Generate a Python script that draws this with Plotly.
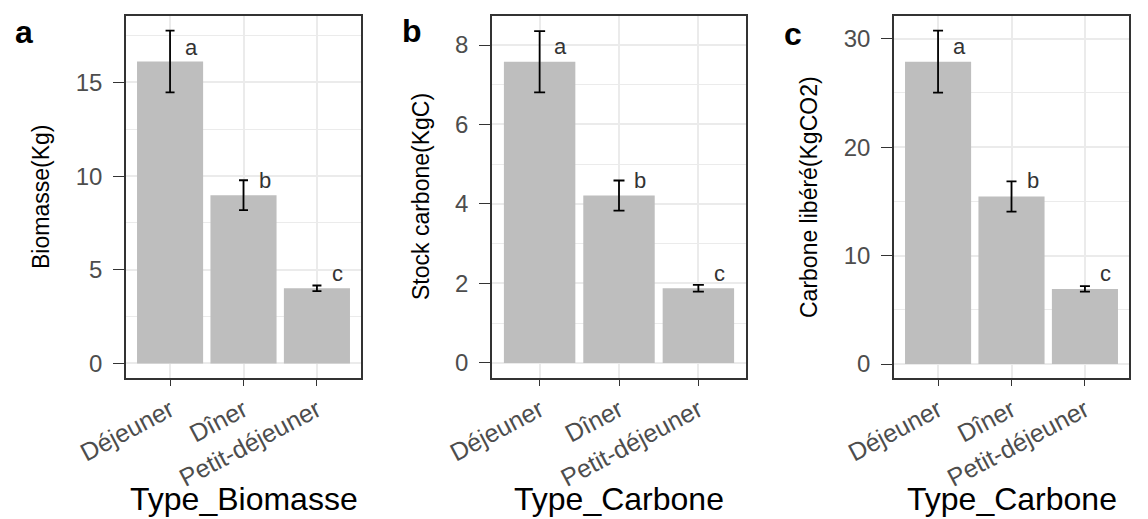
import plotly.graph_objects as go

categories = ["Déjeuner", "Dîner", "Petit-déjeuner"]
biomasse = [16.12, 8.98, 4.01]
biomasse_se = [1.65, 0.80, 0.15]
carbone = [7.58, 4.21, 1.88]
carbone_se = [0.77, 0.38, 0.085]
co2 = [27.89, 15.45, 6.93]
co2_se = [2.86, 1.39, 0.26]
lettres = ["a", "b", "c"]
lettre_y_biomasse = [16.89, 9.75, 4.79]
lettre_y_carbone = [7.95, 4.59, 2.25]
lettre_y_co2 = [29.27, 16.92, 8.31]

panel_tags = ["a", "b", "c"]
y_titles = ["Biomasse(Kg)", "Stock carbone(KgC)", "Carbone libéré(KgCO2)"]
x_titles = ["Type_Biomasse", "Type_Carbone", "Type_Carbone"]

W, H = 1148, 519
FONT = "Liberation Sans, Arial, sans-serif"

panels = [
    dict(vals=biomasse, se=biomasse_se, ly=lettre_y_biomasse, rng=[-0.78, 18.55], dtick=5,
         dom=[126, 361], ytitle_x=41, tag_xy=(24, 32), cap=4.5),
    dict(vals=carbone, se=carbone_se, ly=lettre_y_carbone, rng=[-0.38, 8.73], dtick=2,
         dom=[492, 746], ytitle_x=421, tag_xy=(412, 31), cap=5.5),
    dict(vals=co2, se=co2_se, ly=lettre_y_co2, rng=[-1.29, 32.1], dtick=10,
         dom=[894, 1129], ytitle_x=809, tag_xy=(793, 34), cap=5),
]

fig = go.Figure()
annotations = []
ydom = [1 - 378 / H, 1 - 16 / H]

for i, p in enumerate(panels):
    sfx = "" if i == 0 else str(i + 1)
    xa, ya = "x" + sfx, "y" + sfx
    fig.add_trace(go.Bar(
        x=categories, y=p["vals"], xaxis=xa, yaxis=ya,
        marker=dict(color="#BEBEBE", line=dict(width=0)),
        error_y=dict(type="data", array=p["se"], visible=True, color="black",
                     thickness=1.8, width=p["cap"]),
        showlegend=False, hoverinfo="skip",
    ))
    axis_common = dict(showline=True, mirror=True, linecolor="#333333", linewidth=1.5,
                       ticks="outside", tickcolor="#333333", tickwidth=1.3,
                       showgrid=True, gridcolor="#EBEBEB", gridwidth=1.6,
                       automargin=False)
    fig.layout["xaxis" + sfx] = dict(
        axis_common, domain=[p["dom"][0] / W, p["dom"][1] / W], anchor=ya,
        type="category", range=[-0.6, 2.6], ticklen=6, tickangle=-28,
        tickfont=dict(family=FONT, size=25, color="#4D4D4D"),
        categoryorder="array", categoryarray=categories, fixedrange=True,
    )
    fig.layout["yaxis" + sfx] = dict(
        axis_common, domain=ydom, anchor=xa, range=p["rng"], dtick=p["dtick"], tick0=0,
        ticklen=11, zeroline=False, fixedrange=True, ticklabelstandoff=6,
        tickfont=dict(family=FONT, size=24, color="#4D4D4D"),
        minor=dict(dtick=p["dtick"] / 2, tick0=0, showgrid=True, gridcolor="#EBEBEB",
                   gridwidth=0.8, ticks=""),
    )
    for c, lt, yv in zip(categories, lettres, p["ly"]):
        annotations.append(dict(x=c, y=yv, xref=xa, yref=ya, text=lt, showarrow=False,
                                xshift=21, font=dict(family=FONT, size=22, color="#333333")))
    annotations.append(dict(x=p["ytitle_x"] / W, y=1 - 197 / H, xref="paper", yref="paper",
                            xanchor="center", yanchor="middle",
                            text=y_titles[i], textangle=-90, showarrow=False,
                            font=dict(family=FONT, size=23, color="black")))
    cx = (p["dom"][0] + p["dom"][1]) / 2
    annotations.append(dict(x=cx / W, y=1 - 479 / H, xref="paper", yref="paper",
                            xanchor="center", yanchor="top", text=x_titles[i], showarrow=False,
                            font=dict(family=FONT, size=32, color="black")))
    tx, ty = p["tag_xy"]
    annotations.append(dict(x=tx / W, y=1 - ty / H, xref="paper", yref="paper",
                            xanchor="center", yanchor="middle",
                            text="<b>" + panel_tags[i] + "</b>", showarrow=False,
                            font=dict(family=FONT, size=32, color="black")))

fig.update_layout(
    width=W, height=H, margin=dict(l=0, r=0, t=0, b=0, pad=0, autoexpand=False),
    paper_bgcolor="white", plot_bgcolor="white",
    bargap=0.1, annotations=annotations, showlegend=False,
)
fig.write_html("out.html", config={"displayModeBar": False},
               post_script="document.body.style.margin='0px';document.body.style.padding='0px';")
